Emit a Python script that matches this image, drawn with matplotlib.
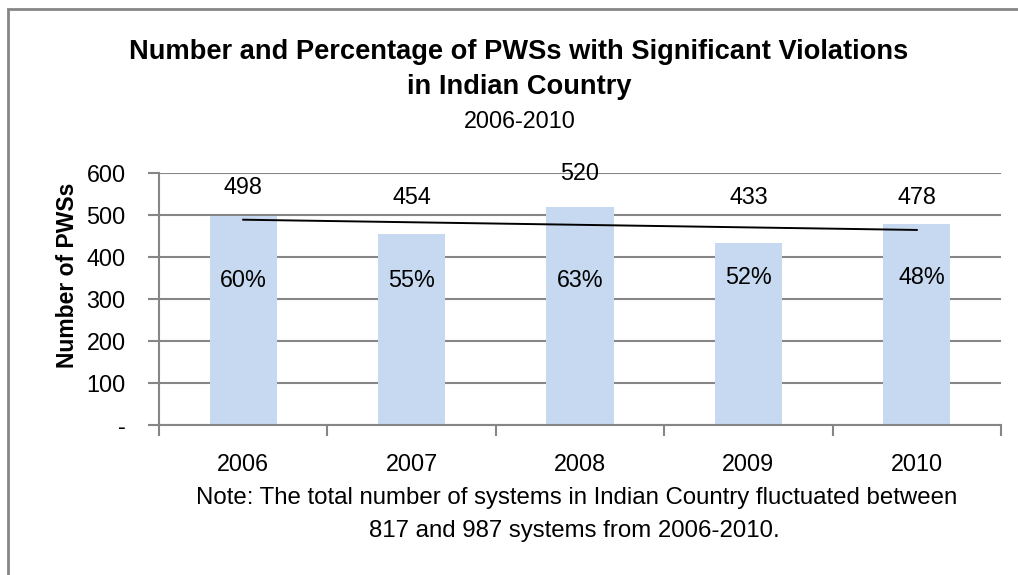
import matplotlib
matplotlib.use("Agg")
import matplotlib.pyplot as plt
from matplotlib.patches import Rectangle
import numpy as np

years = ["2006", "2007", "2008", "2009", "2010"]
counts = [498, 454, 520, 433, 478]
pct_labels = ["60%", "55%", "63%", "52%", "48%"]

# label heights as placed in the original chart (data units)
count_label_y = [566, 542, 600, 542, 542]
pct_label_y = [343, 343, 343, 350, 350]

plt.rcParams['font.family'] = ['Liberation Sans', 'DejaVu Sans']

fig = plt.figure(figsize=(10.18, 5.75), dpi=100)
ax = fig.add_axes([159 / 1018, 1 - 425 / 575, 842 / 1018, 252 / 575])

gray = "#868686"
fs = 16.8
x = np.arange(len(years))
ax.bar(x, counts, width=0.4, color="#C6D9F1", zorder=2)

# linear trend line
k, b = np.polyfit(x, counts, 1)
ax.plot(x, k * x + b, color="black", lw=1.4, zorder=3)

for i in range(len(years)):
    ax.text(x[i], count_label_y[i], str(counts[i]), ha="center", va="center", fontsize=fs)
    ax.text(x[i] + (0.03 if i == 4 else 0), pct_label_y[i], pct_labels[i],
            ha="center", va="center", fontsize=fs, zorder=4)

ax.set_xlim(-0.5, 4.5)
ax.set_ylim(0, 600)
ax.set_yticks(range(0, 601, 100))
ax.set_yticklabels(["-"] + [str(v) for v in range(100, 601, 100)], fontsize=fs)
ax.set_xticks(x)
ax.set_xticklabels(years, fontsize=fs)
ax.set_xticks(np.arange(-0.5, 5.0, 1.0), minor=True)
ax.tick_params(axis="x", which="major", length=0, pad=20)
ax.tick_params(axis="x", which="minor", length=8, color=gray, width=1.5)
ax.tick_params(axis="y", length=8, color=gray, width=1.5, pad=16)
ax.yaxis.grid(True, color=gray, lw=1.5, zorder=0)
ax.set_axisbelow(True)
for s in ["top", "right"]:
    ax.spines[s].set_visible(False)
for s in ["left", "bottom"]:
    ax.spines[s].set_color(gray)
    ax.spines[s].set_linewidth(1.5)

ax.set_ylabel("Number of PWSs", fontsize=16.5, fontweight="bold", va="center")
ax.yaxis.set_label_coords((68 - 159) / 842, (425 - 275) / 252)

fig.text(519 / 1018, 1 - 52 / 575, "Number and Percentage of PWSs with Significant Violations",
         ha="center", va="center", fontsize=19.6, fontweight="bold")
fig.text(519 / 1018, 1 - 87 / 575, "in Indian Country",
         ha="center", va="center", fontsize=19.6, fontweight="bold")
fig.text(520 / 1018, 1 - 121 / 575, "2006-2010", ha="center", va="center", fontsize=fs)

fig.text(577 / 1018, 1 - 498 / 575,
         "Note: The total number of systems in Indian Country fluctuated between",
         ha="center", va="center", fontsize=17.3)
fig.text(574 / 1018, 1 - 531 / 575, "817 and 987 systems from 2006-2010.",
         ha="center", va="center", fontsize=17.3)

# chart border
fig.patches.append(Rectangle((7.5 / 1018, -0.2), 1.2, 1 - 8.5 / 575 + 0.2,
                             transform=fig.transFigure, fill=False,
                             edgecolor=gray, lw=2))

fig.savefig("out.png", dpi=100)
